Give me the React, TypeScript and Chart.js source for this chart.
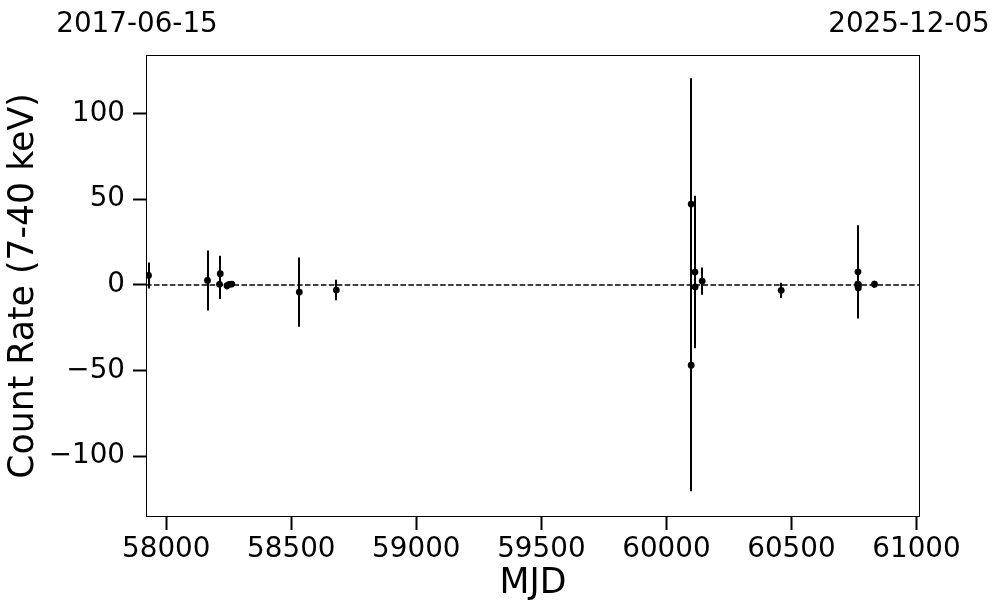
import React, { useEffect, useRef } from "react";
import { Chart, registerables } from "chart.js";

Chart.register(...registerables);

// Observation epochs (MJD)
const mjd = [
  57929, 58165, 58216, 58213, 58243, 58252, 58262, 58532, 58680,
  60099, 60099, 60114, 60115, 60143, 60459,
  60766, 60765, 60766, 60767, 60768, 60832,
];
// Count rate (7-40 keV)
const rate = [
  5.5, 2.6, 6.5, 0.3, -0.5, 0.3, 0.5, -4.2, -3.0,
  47.2, -46.9, 7.5, -1.2, 2.2, -3.2,
  7.6, 0.5, -0.8, -1.8, 0.2, 0.4,
];
// 1-sigma errors
const rateErr = [
  7.6, 17.5, 10.5, 8.5, 2.0, 1.5, 1.5, 20.2, 6.0,
  73.5, 73.5, 44.5, 3.0, 7.9, 4.4,
  27.2, 2.0, 2.5, 2.0, 1.5, 2.0,
];

const xTicks = [58000, 58500, 59000, 59500, 60000, 60500, 61000];
const yTicks = [-100, -50, 0, 50, 100];
const xRange = [57919, 61014];
const yRange = [-135.5, 134.2];
const dateLabels = ["2017-06-15", "2025-12-05"];

const FONT = "'DejaVu Sans', sans-serif";

const fmt = (v: number | string) => String(v).replace("-", "\u2212");

export default function App() {
  const ref = useRef<HTMLCanvasElement | null>(null);

  useEffect(() => {
    if (!ref.current) return;

    const errPlugin = {
      id: "errbars",
      beforeDatasetsDraw(chart: any) {
        const { ctx, chartArea, scales } = chart;
        const xs = scales.x;
        const ys = scales.y;
        ctx.save();
        ctx.beginPath();
        ctx.rect(chartArea.left, chartArea.top, chartArea.right - chartArea.left, chartArea.bottom - chartArea.top);
        ctx.clip();
        // zero line
        ctx.strokeStyle = "#000";
        ctx.lineWidth = 1.5;
        ctx.setLineDash([5.55, 2.4]);
        const y0 = ys.getPixelForValue(0);
        ctx.beginPath();
        ctx.moveTo(chartArea.left, y0);
        ctx.lineTo(chartArea.right, y0);
        ctx.stroke();
        ctx.setLineDash([]);
        // error bars
        ctx.lineWidth = 2;
        for (let i = 0; i < mjd.length; i++) {
          const px = Math.round(xs.getPixelForValue(mjd[i]));
          const pTop = ys.getPixelForValue(rate[i] + rateErr[i]);
          const pBot = ys.getPixelForValue(rate[i] - rateErr[i]);
          ctx.beginPath();
          ctx.moveTo(px, pTop);
          ctx.lineTo(px, pBot);
          ctx.stroke();
        }
        ctx.restore();
      },
      afterDraw(chart: any) {
        const { ctx, chartArea } = chart;
        ctx.save();
        ctx.strokeStyle = "#000";
        ctx.lineWidth = 1;
        ctx.strokeRect(
          Math.round(chartArea.left) + 0.5,
          Math.round(chartArea.top) + 0.5,
          Math.round(chartArea.right - chartArea.left) - 1,
          Math.round(chartArea.bottom - chartArea.top) - 1
        );
        ctx.fillStyle = "#000";
        ctx.font = `27.8px ${FONT}`;
        ctx.textBaseline = "alphabetic";
        ctx.textAlign = "center";
        ctx.fillText(dateLabels[0], chartArea.left - 9, 32);
        ctx.fillText(dateLabels[1], chartArea.right - 11, 32);
        ctx.restore();
      },
    };

    const chart = new Chart(ref.current, {
      type: "scatter",
      data: {
        datasets: [
          {
            data: mjd.map((m, i) => ({ x: m, y: rate[i] })),
            pointRadius: 3.4,
            pointHoverRadius: 3.4,
            backgroundColor: "#000",
            borderColor: "#000",
            borderWidth: 0,
          },
        ],
      },
      options: {
        animation: false,
        responsive: false,
        devicePixelRatio: 1,
        events: [],
        layout: { padding: { top: 55, right: 77, left: 0, bottom: 0 } },
        plugins: { legend: { display: false }, tooltip: { enabled: false } },
        scales: {
          x: {
            type: "linear",
            min: xRange[0],
            max: xRange[1],
            afterBuildTicks: (s: any) => {
              s.ticks = xTicks.map((v) => ({ value: v }));
            },
            afterFit: (s: any) => {
              s.height = 96;
            },
            border: { display: false },
            grid: {
              drawOnChartArea: false,
              drawTicks: true,
              tickLength: 13,
              tickWidth: 2,
              tickColor: "#000",
            },
            ticks: {
              autoSkip: false,
              maxRotation: 0,
              padding: 3,
              color: "#000",
              font: { family: FONT, size: 27.8 },
              callback: (v: any) => fmt(v),
            },
            title: {
              display: true,
              text: "MJD",
              color: "#000",
              font: { family: FONT, size: 34.7 },
              padding: { top: 0, bottom: 8 },
            },
          },
          y: {
            type: "linear",
            min: yRange[0],
            max: yRange[1],
            afterBuildTicks: (s: any) => {
              s.ticks = yTicks.map((v) => ({ value: v }));
            },
            afterFit: (s: any) => {
              s.width = 146;
            },
            border: { display: false },
            grid: {
              drawOnChartArea: false,
              drawTicks: true,
              tickLength: 13,
              tickWidth: 2,
              tickColor: "#000",
            },
            ticks: {
              autoSkip: false,
              padding: 8,
              color: "#000",
              font: { family: FONT, size: 27.8 },
              callback: (v: any) => fmt(v),
            },
            title: {
              display: true,
              text: "Count Rate (7-40 keV)",
              color: "#000",
              font: { family: FONT, size: 34.7 },
              padding: { top: 3, bottom: 0 },
            },
          },
        },
      },
      plugins: [errPlugin],
    } as any);

    return () => chart.destroy();
  }, []);

  return (
    <div style={{ position: "absolute", left: 0, top: 0, width: 997, height: 613, background: "#fff" }}>
      <canvas ref={ref} width={997} height={613} style={{ display: "block", width: 997, height: 613 }} />
    </div>
  );
}
